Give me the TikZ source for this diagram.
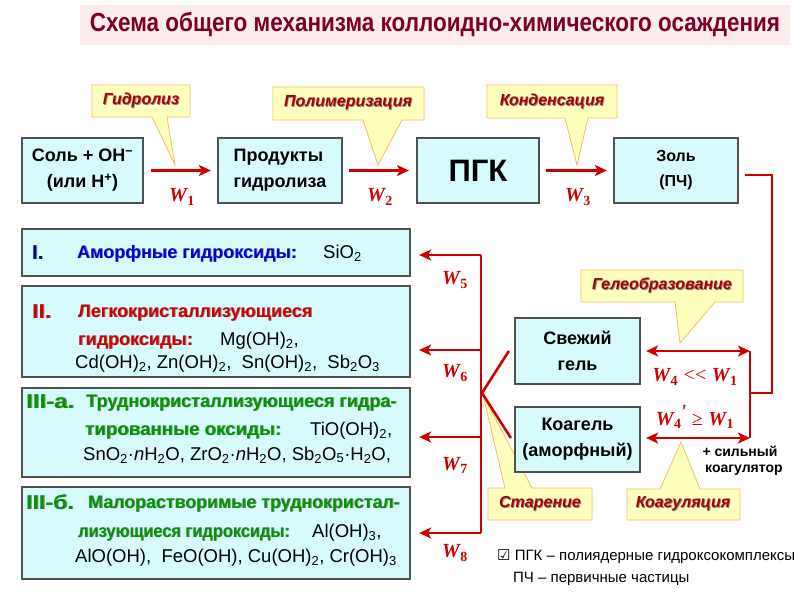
\documentclass[tikz,border=0pt]{standalone}
\usepackage{fontspec}
\setmainfont{Liberation Sans}
\newfontfamily\serifW{Liberation Serif}
\newfontfamily\symf{DejaVu Sans}
\newfontfamily\narrowb[FakeStretch=0.86]{Liberation Sans}
\usetikzlibrary{arrows.meta}
\definecolor{boxfill}{RGB}{215,250,252}
\definecolor{boxdraw}{RGB}{80,80,80}
\definecolor{ared}{RGB}{204,0,0}
\definecolor{callfill}{RGB}{255,255,190}
\definecolor{calldraw}{RGB}{240,190,100}
\definecolor{calltext}{RGB}{170,0,0}
\definecolor{titlec}{RGB}{125,0,35}
\definecolor{titlebg}{RGB}{252,236,236}
\definecolor{hblue}{RGB}{0,0,220}
\definecolor{hnavy}{RGB}{0,0,140}
\definecolor{hred}{RGB}{210,0,0}
\definecolor{hgreen}{RGB}{0,150,0}
\newcommand\fsz[2]{\fontsize{#1pt}{#2pt}\selectfont}
\newcommand\subx[1]{\textsubscript{#1}}
\newcommand\shd[1]{\leavevmode\rlap{\kern0.9pt\raisebox{-0.9pt}{\color{black!45}#1}}#1}
\newcommand\Wv[1]{{\serifW\bfseries\itshape W}\kern0.5pt\textsubscript{\serifW\bfseries #1}}
\begin{document}
\begin{tikzpicture}[x=1pt,y=-1pt,
  box/.style={draw=boxdraw, line width=2.2pt, fill=boxfill, inner sep=0pt},
  btxt/.style={font=\fsz{18}{26}\bfseries},
  arr/.style={draw=ared, line width=2.6pt, -{Stealth[length=12pt,width=11pt,inset=3pt]}},
  darr/.style={draw=ared, line width=2.6pt, {Stealth[length=12pt,width=11pt,inset=3pt]}-{Stealth[length=12pt,width=11pt,inset=3pt]}},
  ln/.style={draw=ared, line width=2.6pt, line join=miter},
  call/.style={draw=calldraw, fill=callfill, line width=0.8pt, line join=miter},
  calltxt/.style={text=calltext, font=\fsz{16}{19}\bfseries\itshape, inner sep=0pt},
  wl/.style={text=ared, inner sep=0pt, font=\fsz{20}{24}},
  lt/.style={anchor=base west, inner sep=0pt},
  hdr/.style={lt, font=\fsz{18}{22}\bfseries},
  num/.style={lt, font=\fsz{20}{22}\bfseries},
  frm/.style={lt, font=\fsz{18.5}{22}},
]
\useasboundingbox (0,0) rectangle (800,600);

% title
\node[fill=titlebg, minimum width=710pt, minimum height=40pt, inner sep=0pt, text=titlec] (title) at (435,25)
  {\resizebox{690pt}{!}{\narrowb\bfseries Схема общего механизма коллоидно-химического осаждения}};

% callouts (shapes)
\draw[call] (92,85) -- (190,85) -- (190,117) -- (167,117) -- (175,165) -- (152,117) -- (92,117) -- cycle;
\draw[call] (273,87) -- (424,87) -- (424,120) -- (402,120) -- (378,165) -- (363,120) -- (273,120) -- cycle;
\draw[call] (487,85) -- (617,85) -- (617,118) -- (588,118) -- (577,165) -- (565,118) -- (487,118) -- cycle;
\draw[call] (581,270) -- (743,270) -- (743,302) -- (715,302) -- (680,343) -- (675,302) -- (581,302) -- cycle;
\draw[call] (488,488) -- (505,488) -- (483,395) -- (532,488) -- (592,488) -- (592,520) -- (488,520) -- cycle;
\draw[call] (627,489) -- (660,489) -- (681,442) -- (700,489) -- (740,489) -- (740,520) -- (627,520) -- cycle;

\node[calltxt] (cHyd) at (141,101) {\shd{Гидролиз}};
\node[calltxt] (cPol) at (348,103.5) {\shd{Полимеризация}};
\node[calltxt] (cCond) at (552,101.5) {\shd{Конденсация}};
\node[calltxt] (cGel) at (662,286) {\shd{Гелеобразование}};
\node[calltxt] (cAge) at (540,504) {\shd{Старение}};
\node[calltxt] (cCoag) at (683,504) {\shd{Коагуляция}};

% top row boxes
\node[box, minimum width=121pt, minimum height=65pt, btxt, align=center] (sol) at (82.5,170.5)
  {Соль + OH\textsuperscript{−}\\(или H\textsuperscript{+})};
\node[box, minimum width=124pt, minimum height=65pt, btxt, align=left] (prod) at (280,170.5)
  {Продукты\\гидролиза};
\node[box, minimum width=122pt, minimum height=65pt, font=\fsz{31}{34}\bfseries] (pgk) at (478,170.5) {ПГК};
\node[box, minimum width=124pt, minimum height=65pt, font=\fsz{16}{25}\bfseries, align=center] (zol) at (676,170.5)
  {Золь\\(ПЧ)};

% gel boxes
\node[box, minimum width=125pt, minimum height=66pt, btxt, align=center] (gel) at (577.5,351) {Свежий\\гель};
\node[box, minimum width=125pt, minimum height=65pt, btxt, align=center] (koag) at (577.5,439.5) {Коагель\\(аморфный)};

% left boxes
\node[box, minimum width=388pt, minimum height=47pt] (bI) at (216,252.5) {};
\node[box, minimum width=388pt, minimum height=91pt] (bII) at (216,331.5) {};
\node[box, minimum width=388pt, minimum height=89pt] (bIIIa) at (216,432.5) {};
\node[box, minimum width=388pt, minimum height=92pt] (bIIIb) at (216,533) {};

% texts in left boxes
\node[num, text=hnavy] (tI1) at (32,259) {\shd{I.}};
\node[hdr, text=hblue] (tI2) at (77,258) {\shd{Аморфные гидроксиды:}};
\node[frm] (tI3) at (323,258) {SiO\subx{2}};

\node[num, text=hred] (tII1) at (32,318) {\scalebox{1.15}[1]{\shd{II.}}};
\node[hdr, text=hred] (tII2) at (78,317) {\shd{Легкокристаллизующиеся}};
\node[hdr, text=hred] (tII3) at (78,345) {\shd{гидроксиды:}};
\node[frm] (tII4) at (220,345) {Mg(OH)\subx{2},};
\node[frm] (tII5) at (75,368) {Cd(OH)\subx{2}, Zn(OH)\subx{2},\ \ Sn(OH)\subx{2},\ \ Sb\subx{2}O\subx{3}};

\node[num, text=hgreen] (tA1) at (26,408) {\scalebox{1.2}[1]{\shd{III-а.}}};
\node[hdr, text=hgreen] (tA2) at (86,407) {\shd{Труднокристаллизующиеся гидра-}};
\node[hdr, text=hgreen] (tA3) at (85,435) {\scalebox{1.04}[1]{\shd{тированные оксиды:}}};
\node[frm] (tA4) at (310,435) {TiO(OH)\subx{2},};
\node[frm] (tA5) at (83,460) {SnO\subx{2}·\textit{n}H\subx{2}O, ZrO\subx{2}·\textit{n}H\subx{2}O, Sb\subx{2}O\subx{5}·H\subx{2}O,};

\node[num, text=hgreen] (tB1) at (26,509) {\scalebox{1.15}[1]{\shd{III-б.}}};
\node[hdr, text=hgreen] (tB2) at (88,508) {\scalebox{0.99}[1]{\shd{Малорастворимые труднокристал-}}};
\node[hdr, text=hgreen] (tB3) at (78,537) {\scalebox{0.91}[1]{\shd{лизующиеся гидроксиды:}}};
\node[frm] (tB4) at (312,537) {Al(OH)\subx{3},};
\node[frm] (tB5) at (75,562) {AlO(OH),\ \ FeO(OH), Cu(OH)\subx{2}, Cr(OH)\subx{3}};

% top row arrows
\draw[arr, shorten <=7pt, shorten >=6pt] (sol) -- (prod);
\draw[arr, shorten <=6pt, shorten >=7pt] (prod) -- (pgk);
\draw[arr, shorten <=6pt, shorten >=6pt] (pgk) -- (zol);

% right side
\coordinate (jr) at (772,393);
\coordinate (jv) at (750,393);
\coordinate (jv1) at (750,351);
\coordinate (jv2) at (750,438);
\draw[ln] ([shift={(6,4.5)}]zol.east) -| (jr) -- (jv);
\draw[ln] (jv1) -- (jv2);
\draw[darr] ([xshift=5pt]gel.east) -- (jv1);
\draw[darr] ([xshift=5pt]koag.east |- jv2) -- (jv2);

% left tree
\coordinate (t5) at (481,255);
\coordinate (t6) at (481,350);
\coordinate (tj) at (482,393);
\coordinate (t7) at (481,437);
\coordinate (t8) at (481,533);
\draw[ln] (t5) -- (t8);
\draw[ln] ([xshift=-5pt]gel.west) -- (tj) -- ([xshift=-3pt,yshift=1.5pt]koag.west);
\draw[arr] (t5) -- ([xshift=8pt]bI.east |- t5);
\draw[arr] (t6) -- ([xshift=8pt]bII.east |- t6);
\draw[arr] (t7) -- ([xshift=8pt]bIIIa.east |- t7);
\draw[arr] (t8) -- ([xshift=8pt]bIIIb.east |- t8);

% W labels
\node[wl] (w1) at (182,197) {\Wv{1}};
\node[wl] (w2) at (380,197) {\Wv{2}};
\node[wl] (w3) at (578,197) {\Wv{3}};
\node[wl] (w5) at (455,280) {\Wv{5}};
\node[wl] (w6) at (455,373) {\Wv{6}};
\node[wl] (w7) at (455,465) {\Wv{7}};
\node[wl] (w8) at (455,553) {\Wv{8}};
\node[wl] (w41) at (695,377) {\Wv{4} {\serifW <{}<} \Wv{1}};
\node[wl] (w42) at (695,417) {\Wv{4}\kern-1pt\raisebox{7pt}{\serifW\bfseries\itshape '}\ {\serifW ≥} \Wv{1}};

\node[font=\fsz{14}{16}\bfseries, align=center, inner sep=0pt] (strong) at (740,461) {+ сильный\\\ \ коагулятор};

% footnote
\node[lt, font=\fsz{15}{18}] (fn1) at (497,560) {{\symf ☑}\ ПГК – полиядерные гидроксокомплексы};
\node[lt, font=\fsz{15}{18}] (fn2) at (513,582) {ПЧ – первичные частицы};
\end{tikzpicture}
\end{document}
